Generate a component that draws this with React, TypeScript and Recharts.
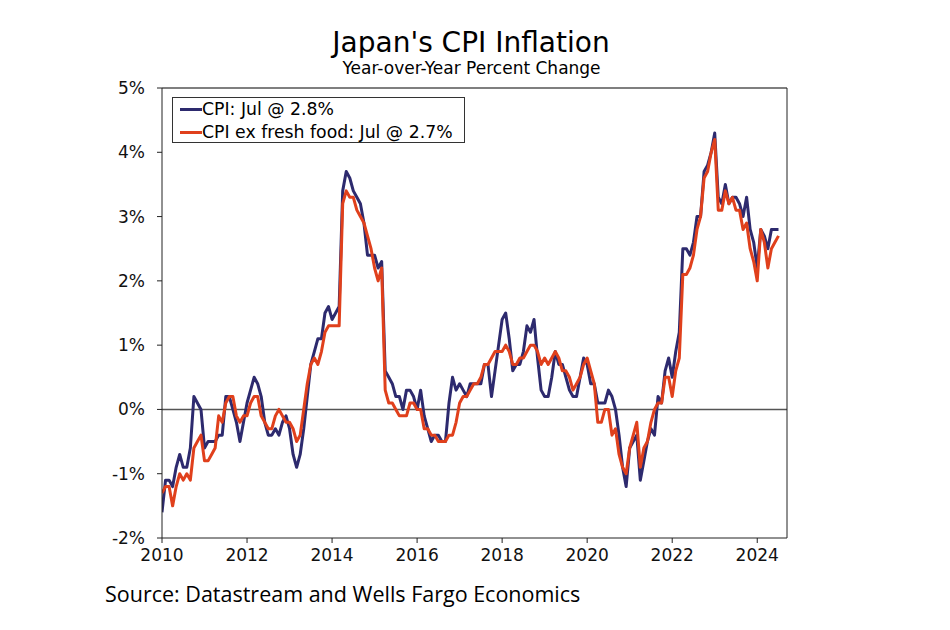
import React from 'react';
import { LineChart, Line, XAxis, YAxis, ReferenceLine } from 'recharts';

const startYear = 2010;

// Japan CPI, year-over-year % change, monthly from Jan 2010
const cpi = [
  -1.6, -1.1, -1.1, -1.2, -0.9, -0.7, -0.9, -0.9, -0.6, 0.2, 0.1, 0.0,
  -0.6, -0.5, -0.5, -0.5, -0.4, -0.4, 0.2, 0.2, 0.0, -0.2, -0.5, -0.2,
  0.1, 0.3, 0.5, 0.4, 0.2, -0.2, -0.4, -0.4, -0.3, -0.4, -0.2, -0.1,
  -0.3, -0.7, -0.9, -0.7, -0.3, 0.2, 0.7, 0.9, 1.1, 1.1, 1.5, 1.6,
  1.4, 1.5, 1.6, 3.4, 3.7, 3.6, 3.4, 3.3, 3.2, 2.9, 2.4, 2.4,
  2.4, 2.2, 2.3, 0.6, 0.5, 0.4, 0.2, 0.2, 0.0, 0.3, 0.3, 0.2,
  0.0, 0.3, -0.1, -0.3, -0.5, -0.4, -0.4, -0.5, -0.5, 0.1, 0.5, 0.3,
  0.4, 0.3, 0.2, 0.4, 0.4, 0.4, 0.4, 0.7, 0.7, 0.2, 0.6, 1.0,
  1.4, 1.5, 1.1, 0.6, 0.7, 0.7, 0.9, 1.3, 1.2, 1.4, 0.8, 0.3,
  0.2, 0.2, 0.5, 0.9, 0.7, 0.7, 0.5, 0.3, 0.2, 0.2, 0.5, 0.8,
  0.7, 0.4, 0.4, 0.1, 0.1, 0.1, 0.3, 0.2, 0.0, -0.4, -0.9, -1.2,
  -0.6, -0.5, -0.4, -1.1, -0.8, -0.5, -0.3, -0.4, 0.2, 0.1, 0.6, 0.8,
  0.5, 0.9, 1.2, 2.5, 2.5, 2.4, 2.6, 3.0, 3.0, 3.7, 3.8, 4.0,
  4.3, 3.3, 3.2, 3.5, 3.2, 3.3, 3.3, 3.2, 3.0, 3.3, 2.8, 2.6,
  2.2, 2.8, 2.7, 2.5, 2.8, 2.8, 2.8,
];

// CPI ex fresh food, year-over-year % change, monthly from Jan 2010
const core = [
  -1.3, -1.2, -1.2, -1.5, -1.2, -1.0, -1.1, -1.0, -1.1, -0.6, -0.5, -0.4,
  -0.8, -0.8, -0.7, -0.6, -0.1, -0.2, 0.1, 0.2, 0.2, -0.1, -0.2, -0.1,
  -0.1, 0.1, 0.2, 0.2, -0.1, -0.2, -0.3, -0.3, -0.1, 0.0, -0.1, -0.2,
  -0.2, -0.3, -0.5, -0.4, 0.0, 0.4, 0.7, 0.8, 0.7, 0.9, 1.2, 1.3,
  1.3, 1.3, 1.3, 3.2, 3.4, 3.3, 3.3, 3.1, 3.0, 2.9, 2.7, 2.5,
  2.2, 2.0, 2.2, 0.3, 0.1, 0.1, 0.0, -0.1, -0.1, -0.1, 0.1, 0.1,
  0.0, 0.0, -0.3, -0.3, -0.4, -0.4, -0.5, -0.5, -0.5, -0.4, -0.4, -0.2,
  0.1, 0.2, 0.2, 0.3, 0.4, 0.4, 0.5, 0.7, 0.7, 0.8, 0.9, 0.9,
  0.9, 1.0, 0.9, 0.7, 0.7, 0.8, 0.8, 0.9, 1.0, 1.0, 0.9, 0.7,
  0.8, 0.7, 0.8, 0.9, 0.8, 0.6, 0.6, 0.5, 0.3, 0.4, 0.5, 0.7,
  0.8, 0.6, 0.4, -0.2, -0.2, 0.0, 0.0, -0.4, -0.3, -0.7, -0.9, -1.0,
  -0.6, -0.4, -0.2, -0.9, -0.6, -0.5, -0.2, 0.0, 0.1, 0.1, 0.5, 0.5,
  0.2, 0.6, 0.8, 2.1, 2.1, 2.2, 2.4, 2.8, 3.0, 3.6, 3.7, 4.0,
  4.2, 3.1, 3.1, 3.4, 3.2, 3.3, 3.1, 3.1, 2.8, 2.9, 2.5, 2.3,
  2.0, 2.8, 2.6, 2.2, 2.5, 2.6, 2.7,
];

const xTicks = [2010, 2012, 2014, 2016, 2018, 2020, 2022, 2024];
const yTicks = [-2, -1, 0, 1, 2, 3, 4, 5];

const seriesNames = ['CPI: Jul @ 2.8%', 'CPI ex fresh food: Jul @ 2.7%'];
const title = "Japan's CPI Inflation";
const subtitle = 'Year-over-Year Percent Change';
const source = 'Source: Datastream and Wells Fargo Economics';

const BLUE = '#2d2a6e';
const RED = '#e0401c';
const FONT = 'DejaVu Sans, Verdana, sans-serif';

const data = cpi.map((v, i) => ({ t: startYear + i / 12, cpi: v, core: core[i] }));

const tickStyle = { fill: '#111', fontSize: 17, fontFamily: FONT };

export default function App() {
  return (
    <div style={{ position: 'absolute', left: 0, top: 0, width: 950, height: 630, background: '#fff', fontFamily: FONT, color: '#000' }}>
      <div style={{ position: 'absolute', left: 0, top: 26, width: 942, textAlign: 'center', fontSize: 28, lineHeight: '34px' }}>{title}</div>
      <div style={{ position: 'absolute', left: 0, top: 58, width: 943, textAlign: 'center', fontSize: 17, lineHeight: '20px' }}>{subtitle}</div>
      <LineChart
        width={950}
        height={630}
        data={data}
        margin={{ top: 88, right: 103, bottom: 62, left: 102 }}
        style={{ position: 'absolute', left: 0, top: 0 }}
      >
        <XAxis
          dataKey="t"
          type="number"
          domain={[2010, 2024.7]}
          ticks={xTicks}
          allowDataOverflow
          height={30}
          tick={tickStyle}
          tickSize={5}
          tickMargin={6}
          stroke="#222"
        />
        <YAxis
          yAxisId="left"
          domain={[-2, 5]}
          ticks={yTicks}
          tickFormatter={(v) => `${v}%`}
          width={60}
          tick={tickStyle}
          tickSize={5}
          tickMargin={12}
          stroke="#222"
        />
        <YAxis
          yAxisId="right"
          orientation="right"
          domain={[-2, 5]}
          ticks={yTicks}
          tickFormatter={(v) => `${v}%`}
          width={60}
          tick={tickStyle}
          tickSize={5}
          tickMargin={5}
          stroke="#222"
        />
        <ReferenceLine yAxisId="left" y={0} stroke="#555" strokeWidth={1.5} />
        <ReferenceLine yAxisId="left" y={5} stroke="#555" strokeWidth={1.5} />
        <Line yAxisId="left" dataKey="cpi" stroke={BLUE} strokeWidth={3} dot={false} isAnimationActive={false} strokeLinejoin="round" />
        <Line yAxisId="left" dataKey="core" stroke={RED} strokeWidth={3} dot={false} isAnimationActive={false} strokeLinejoin="round" />
      </LineChart>
      <div style={{ position: 'absolute', left: 172, top: 97, width: 293, height: 46, border: '1px solid #333', background: '#fff', boxSizing: 'border-box' }}>
        {seriesNames.map((n, i) => (
          <div key={n} style={{ position: 'absolute', left: 7, top: 0 + i * 23, height: 22, display: 'flex', alignItems: 'center', fontSize: 17.3, whiteSpace: 'nowrap' }}>
            <span style={{ display: 'inline-block', width: 22, height: 3, background: i === 0 ? BLUE : RED }} />
            <span>{n}</span>
          </div>
        ))}
      </div>
      <div style={{ position: 'absolute', left: 105, top: 580, fontSize: 21.5, lineHeight: '28px', fontFamily: 'Open Sans, sans-serif', whiteSpace: 'nowrap' }}>{source}</div>
    </div>
  );
}
